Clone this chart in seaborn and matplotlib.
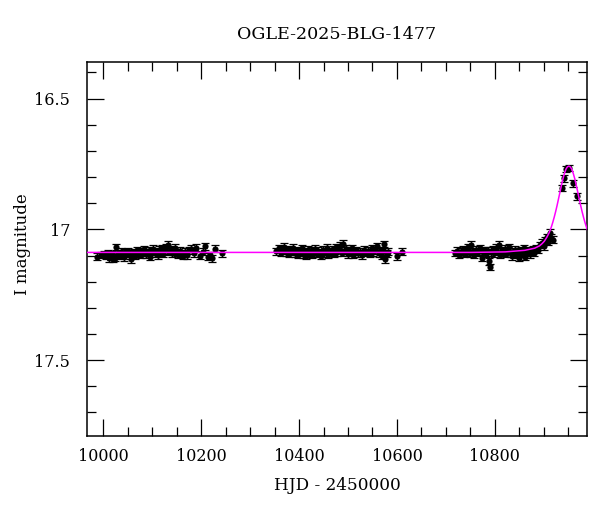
import numpy as np
import pandas as pd
import matplotlib
matplotlib.use("Agg")
import matplotlib.pyplot as plt
from matplotlib.ticker import MultipleLocator, FixedLocator, FixedFormatter
import seaborn as sns

# ---------------- data ----------------
title = "OGLE-2025-BLG-1477"
xlabel = "HJD - 2450000"
ylabel = "I magnitude"

season1_t = [9988, 9995, 10001, 10005, 10009, 10012, 10015, 10018, 10021, 10024,
             10027, 10030, 10033, 10036, 10039, 10042, 10045, 10048, 10051, 10054,
             10057, 10060, 10063, 10066, 10069, 10072, 10075, 10078, 10081, 10084,
             10087, 10090, 10093, 10096, 10099, 10102, 10105, 10108, 10111, 10114,
             10117, 10120, 10123, 10126, 10129, 10132, 10135, 10138, 10141, 10144,
             10147, 10150, 10153, 10156, 10160, 10164, 10168, 10172, 10176, 10180,
             10185, 10190, 10198, 10204, 10208, 10214, 10218, 10222, 10229, 10243]
season1_m = [17.105, 17.098, 17.094, 17.100, 17.092, 17.110, 17.104, 17.096, 17.112, 17.108,
             17.067, 17.090, 17.102, 17.085, 17.097, 17.106, 17.088, 17.094, 17.083, 17.099,
             17.115, 17.092, 17.087, 17.101, 17.079, 17.093, 17.084, 17.097, 17.090, 17.076,
             17.095, 17.088, 17.081, 17.104, 17.086, 17.074, 17.092, 17.083, 17.099, 17.078,
             17.087, 17.071, 17.094, 17.080, 17.068, 17.058, 17.085, 17.076, 17.092, 17.083,
             17.070, 17.089, 17.097, 17.081, 17.093, 17.102, 17.086, 17.099, 17.080, 17.074,
             17.091, 17.070, 17.100, 17.085, 17.065, 17.104, 17.098, 17.110, 17.074, 17.092]

season2_t = [10353, 10360, 10364, 10367, 10370, 10373, 10376, 10379, 10382, 10385,
             10388, 10391, 10394, 10397, 10400, 10403, 10406, 10409, 10412, 10415,
             10418, 10421, 10424, 10427, 10430, 10433, 10436, 10439, 10442, 10445,
             10448, 10451, 10454, 10457, 10460, 10463, 10466, 10469, 10472, 10475,
             10478, 10481, 10484, 10487, 10490, 10493, 10496, 10499, 10502, 10505,
             10508, 10511, 10514, 10517, 10520, 10524, 10528, 10532, 10536, 10540,
             10544, 10548, 10552, 10556, 10560, 10563, 10566, 10569, 10572, 10574,
             10576, 10579, 10582, 10601, 10610]
season2_m = [17.083, 17.072, 17.090, 17.078, 17.066, 17.088, 17.080, 17.094, 17.075, 17.086,
             17.070, 17.092, 17.083, 17.098, 17.079, 17.088, 17.072, 17.095, 17.084, 17.101,
             17.077, 17.091, 17.082, 17.097, 17.086, 17.074, 17.093, 17.081, 17.089, 17.100,
             17.078, 17.092, 17.085, 17.070, 17.096, 17.083, 17.089, 17.076, 17.094, 17.068,
             17.087, 17.079, 17.063, 17.090, 17.055, 17.082, 17.074, 17.095, 17.081, 17.088,
             17.071, 17.097, 17.084, 17.079, 17.092, 17.086, 17.099, 17.077, 17.089, 17.082,
             17.094, 17.073, 17.088, 17.080, 17.065, 17.092, 17.084, 17.101, 17.079, 17.056,
             17.115, 17.093, 17.086, 17.103, 17.085]

season3_t = [10718, 10722, 10726, 10730, 10734, 10737, 10740, 10743, 10746, 10749,
             10752, 10755, 10758, 10761, 10764, 10767, 10770, 10773, 10776, 10779,
             10782, 10785, 10788, 10790, 10793, 10796, 10799, 10802, 10805, 10808,
             10811, 10814, 10817, 10820, 10823, 10826, 10829, 10832, 10835, 10838,
             10841, 10844, 10847, 10850, 10853, 10856, 10859, 10862, 10865, 10868,
             10871, 10874, 10877, 10880, 10884, 10888, 10892, 10896, 10900, 10903,
             10906, 10909, 10912, 10915, 10918,
             10937, 10941, 10945, 10951, 10959, 10967]
season3_m = [17.090, 17.082, 17.097, 17.085, 17.075, 17.094, 17.080, 17.088, 17.068, 17.092,
             17.058, 17.084, 17.097, 17.077, 17.090, 17.083, 17.072, 17.109, 17.086, 17.079,
             17.094, 17.081, 17.122, 17.144, 17.088, 17.076, 17.092, 17.070, 17.085, 17.058,
             17.096, 17.080, 17.089, 17.074, 17.093, 17.082, 17.067, 17.091, 17.103, 17.084,
             17.077, 17.098, 17.086, 17.108, 17.080, 17.093, 17.072, 17.104, 17.087, 17.079,
             17.095, 17.083, 17.076, 17.090, 17.071, 17.078, 17.060, 17.051, 17.064, 17.042,
             17.030, 17.047, 17.012, 17.032, 17.040,
             16.842, 16.804, 16.769, 16.765, 16.823, 16.873]

mag_err = 0.013

# model curve (time relative to peak, magnitude)
model_t0 = 10951
model_dt = [-990, -200, -130, -90, -70, -60, -55, -50, -45, -40, -36, -33, -30, -27,
            -24, -21, -18, -15, -12, -9, -6, -3, 0, 3, 6, 9, 12, 15, 18, 21, 24,
            27, 30, 33, 36, 40]
model_mag = [17.088, 17.088, 17.086, 17.080, 17.072, 17.063, 17.055, 17.045, 17.030,
             17.012, 16.992, 16.974, 16.954, 16.932, 16.908, 16.882, 16.856, 16.830,
             16.806, 16.786, 16.770, 16.761, 16.758, 16.761, 16.770, 16.786, 16.806,
             16.830, 16.856, 16.882, 16.908, 16.932, 16.954, 16.974, 16.992, 17.012]

x_major = [10000, 10200, 10400, 10600, 10800]
y_major = [16.5, 17.0, 17.5]
y_major_labels = ["16.5", "17", "17.5"]

# ---------------- build frames ----------------
obs = pd.DataFrame({
    "t": season1_t + season2_t + season3_t,
    "mag": season1_m + season2_m + season3_m,
})
obs["err"] = mag_err
model = pd.DataFrame({"t": [model_t0 + d for d in model_dt], "mag": model_mag})

# ---------------- plot ----------------
sns.set_style("ticks")
plt.rcParams["font.family"] = ["DejaVu Serif"]
plt.rcParams["axes.linewidth"] = 1.1
plt.rcParams["axes.edgecolor"] = "black"
plt.rcParams["text.color"] = "black"
plt.rcParams["axes.labelcolor"] = "black"
plt.rcParams["xtick.color"] = "black"
plt.rcParams["ytick.color"] = "black"

fig = plt.figure(figsize=(6.0, 5.12), dpi=100)
ax = fig.add_axes([0.145, 0.1484, 0.8333, 0.7305])

ax.errorbar(obs["t"], obs["mag"], yerr=obs["err"], fmt="none", ecolor="black",
            elinewidth=0.9, capsize=3.0, capthick=0.9, zorder=2)
sns.scatterplot(data=obs, x="t", y="mag", color="black", s=20, linewidth=0,
                ax=ax, zorder=3, legend=False)
sns.lineplot(data=model, x="t", y="mag", color="#ff00ff", linewidth=1.1,
             estimator=None, sort=True, ax=ax, zorder=4)

ax.set_xlim(9967, 10988)
ax.set_ylim(17.79, 16.36)

ax.xaxis.set_major_locator(FixedLocator(x_major))
ax.xaxis.set_minor_locator(MultipleLocator(50))
ax.yaxis.set_major_locator(FixedLocator(y_major))
ax.yaxis.set_major_formatter(FixedFormatter(y_major_labels))
ax.yaxis.set_minor_locator(MultipleLocator(0.1))

ax.tick_params(which="both", direction="in", top=True, right=True, width=0.9,
               labelsize=11.5, colors="black", labelcolor="black")
ax.tick_params(which="major", length=12)
ax.tick_params(which="minor", length=6.5)
ax.tick_params(axis="x", which="major", pad=8.5)
ax.tick_params(axis="y", which="major", pad=12)

ax.set_xlabel("")
ax.set_ylabel("")
fig.text(0.5617, 0.932, title, ha="center", va="center", fontsize=12.6, color="black")
fig.text(0.5617, 0.052, xlabel, ha="center", va="center", fontsize=12.2, color="black")
fig.text(0.038, 0.524, ylabel, ha="center", va="center", rotation=90, fontsize=12,
         color="black")

fig.savefig("out.png", dpi=100)
